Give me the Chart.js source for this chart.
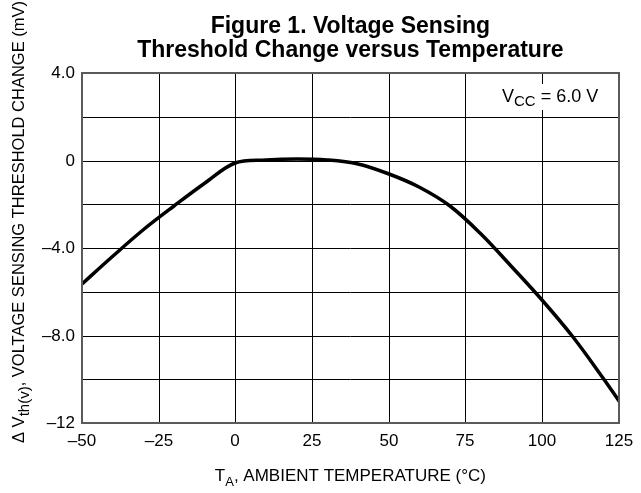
<!DOCTYPE html>
<html><head><meta charset="utf-8">
<script src="https://cdn.jsdelivr.net/npm/chart.js@4"></script>
<style>html,body{margin:0;padding:0;background:#fff}#wrap{width:641px;height:493px}</style>
</head><body><div id="wrap"><canvas id="c" width="641" height="493"></canvas></div>
<script>
// ---- data ----
const temperatures = [-50,-40,-30,-20,-10,0,10,20,30,40,50,60,70,80,90,100,110,120,125];
const deltaVth     = [-5.66,-4.38,-3.18,-2.06,-1.02,-0.1,0.03,0.05,0.01,-0.15,-0.6,-1.2,-2.1,-3.37,-4.82,-6.38,-8.05,-9.95,-11.0];
const xTickValues = [-50,-25,0,25,50,75,100,125];
const xTickLabels = ['\u201350','\u201325','0','25','50','75','100','125'];
const yTickValues = [4,0,-4,-8,-12];
const yTickLabels = ['4.0','0','\u20134.0','\u20138.0','\u201312'];
const titleLines = ['Figure 1. Voltage Sensing','Threshold Change versus Temperature'];

const FONT = '"Liberation Sans", Arial, Helvetica, sans-serif';

function drawRich(ctx, segs, x, y, align){
  let total = 0;
  segs.forEach(s=>{ ctx.font = s.size+'px '+FONT; s.w = ctx.measureText(s.t).width; total += s.w; });
  let cx = align==='center' ? x - total/2 : x;
  ctx.textBaseline = 'alphabetic'; ctx.textAlign = 'left';
  segs.forEach(s=>{ ctx.font = s.size+'px '+FONT; ctx.fillText(s.t, cx, y + (s.dy||0)); cx += s.w; });
  return total;
}

const decor = {
  id:'decor',
  afterDraw(chart){
    const ctx = chart.ctx, a = chart.chartArea;
    ctx.save();
    ctx.strokeStyle = '#5a5a5a'; ctx.lineWidth = 2;
    ctx.strokeRect(Math.round(a.left), Math.round(a.top), Math.round(a.right-a.left), Math.round(a.bottom-a.top));
    const cx = (a.left + a.right)/2;
    ctx.fillStyle = '#000';
    ctx.font = 'bold 23px '+FONT; ctx.textAlign='center'; ctx.textBaseline='alphabetic';
    ctx.fillText(titleLines[0], cx, 33);
    ctx.fillText(titleLines[1], cx, 57);
    drawRich(ctx, [{t:'T',size:17},{t:'A',size:13,dy:5},{t:', AMBIENT TEMPERATURE (\u00B0C)',size:17}], cx, 481, 'center');
    ctx.save();
    ctx.translate(24, 222);
    ctx.rotate(-Math.PI/2);
    drawRich(ctx, [{t:'\u0394 V',size:16.5},{t:'th(v)',size:15,dy:5},{t:', VOLTAGE SENSING THRESHOLD CHANGE (mV)',size:16.5}], 0, 0, 'center');
    ctx.restore();
    ctx.fillStyle = '#fff';
    ctx.fillRect(499, 84, 100, 26);
    ctx.fillStyle = '#000';
    drawRich(ctx, [{t:'V',size:18},{t:'CC',size:15,dy:4},{t:' = 6.0 V',size:18}], 502, 102, 'left');
    ctx.restore();
  }
};

new Chart(document.getElementById('c'), {
  type:'line',
  data:{ datasets:[{
    data: temperatures.map((t,i)=>({x:t, y:deltaVth[i]})),
    borderColor:'#000', borderWidth:3.5, pointRadius:0, fill:false,
    tension:0.35, borderCapStyle:'round', borderJoinStyle:'round'
  }]},
  options:{
    responsive:false, animation:false, devicePixelRatio:1,
    layout:{ padding:{ left:0, top:73, right:18, bottom:0 } },
    plugins:{ legend:{display:false}, title:{display:false}, tooltip:{enabled:false} },
    scales:{
      x:{ type:'linear', min:-50, max:125, alignToPixels:true,
          afterBuildTicks(s){ s.ticks = xTickValues.map(v=>({value:v})); },
          afterFit(s){ s.height = 70; },
          grid:{ color:'#000', lineWidth:1, drawTicks:false },
          border:{ display:false },
          ticks:{ color:'#000', padding:8, font:{family:FONT, size:17}, maxRotation:0,
                  callback(v){ const i = xTickValues.indexOf(v); return i>=0 ? xTickLabels[i] : ''; } } },
      y:{ type:'linear', min:-12, max:4, alignToPixels:true,
          ticks:{ stepSize:2, color:'#000', padding:7, font:{family:FONT, size:17},
                  callback(v){ const i = yTickValues.indexOf(v); return i>=0 ? yTickLabels[i] : ''; } },
          afterFit(s){ s.width = 82; },
          grid:{ color:'#000', lineWidth:1, drawTicks:false },
          border:{ display:false } }
    }
  },
  plugins:[decor]
});
</script></body></html>
